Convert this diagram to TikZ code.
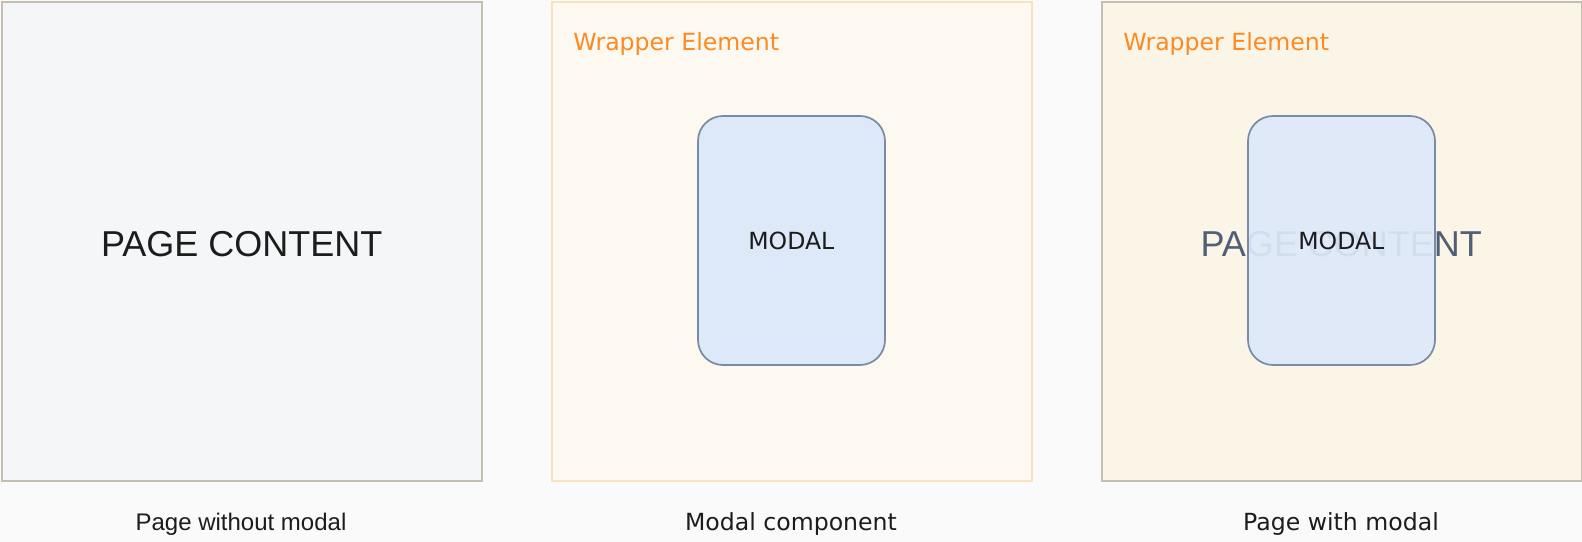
\documentclass[tikz,border=0pt]{standalone}
\usepackage{fontspec}
\setmainfont{DejaVu Sans}
\newfontfamily\helv{Liberation Sans}
\definecolor{bgcol}{HTML}{FAFAFA}
\definecolor{pagefill}{HTML}{F5F6F8}
\definecolor{pageline}{HTML}{C4BFB1}
\definecolor{wrapfill}{HTML}{FDF9F0}
\definecolor{wrapline}{HTML}{F5E3C0}
\definecolor{mixfill}{HTML}{FBF5E8}
\definecolor{modalfill}{HTML}{DDE9F9}
\definecolor{modalline}{HTML}{7A8BA6}
\definecolor{wraptext}{HTML}{FB8A22}
\definecolor{inktext}{HTML}{1C1C1C}
\definecolor{fadedtext}{HTML}{505F75}
\tikzset{
  panel/.style={rectangle, anchor=north west, line width=1.5pt,
    minimum width=360pt, minimum height=359.25pt, inner sep=0pt},
  modalbox/.style={rectangle, rounded corners=18.75pt, draw=modalline,
    fill=modalfill, line width=1.3pt, minimum width=140.25pt,
    minimum height=186.75pt, inner sep=0pt},
  plain/.style={inner sep=0pt, text=inktext},
  bigtext/.style={plain, anchor=base, font=\helv\fontsize{27pt}{30pt}\selectfont},
  modaltext/.style={plain, anchor=base, font=\fontsize{17.7pt}{20pt}\selectfont},
  wraplabel/.style={inner sep=0pt, anchor=base west, text=wraptext,
    font=\fontsize{17.7pt}{20pt}\selectfont},
  caption/.style={plain, anchor=base, font=\fontsize{17.7pt}{20pt}\selectfont}
}
\begin{document}
\begin{tikzpicture}[x=0.75pt, y=-0.75pt]
  % canvas
  \path[fill=bgcol] (0,0) rectangle (1582,542);
  \useasboundingbox (0,0) rectangle (1582,542);

  % left: bare page
  \node[panel, draw=pageline, fill=pagefill] (page) at (1,1) {};
  \node[bigtext] (pagetext) at (241.7,256.5) {PAGE CONTENT};
  \node[caption, font=\helv\fontsize{18pt}{20pt}\selectfont] (cap1) at (241,530) {Page without modal};

  % middle: the modal inside its wrapper
  \node[panel, draw=wrapline, fill=wrapfill] (wrap) at (551,1) {};
  \node[wraplabel] (wraplbl) at (573,51) {Wrapper Element};
  \node[modalbox] (modal) at (791.5,240.5) {};
  \node[modaltext] (modaltxt) at (791.3,249.6) {MODAL};
  \node[caption] (cap2) at (791,530) {Modal component};

  % right: page covered by the wrapper and modal
  \node[panel, draw=pageline, fill=mixfill] (mixed) at (1101,1) {};
  \node[wraplabel] (wraplbl2) at (1123,51) {Wrapper Element};
  \node[bigtext, text=fadedtext] (pagetext2) at (1341.3,256.5) {PAGE CONTENT};
  \node[modalbox, fill opacity=0.92] (modal2) at (1341.5,240.5) {};
  \node[modaltext] (modaltxt2) at (1341.3,249.6) {MODAL};
  \node[caption] (cap3) at (1341,530) {Page with modal};
\end{tikzpicture}
\end{document}
